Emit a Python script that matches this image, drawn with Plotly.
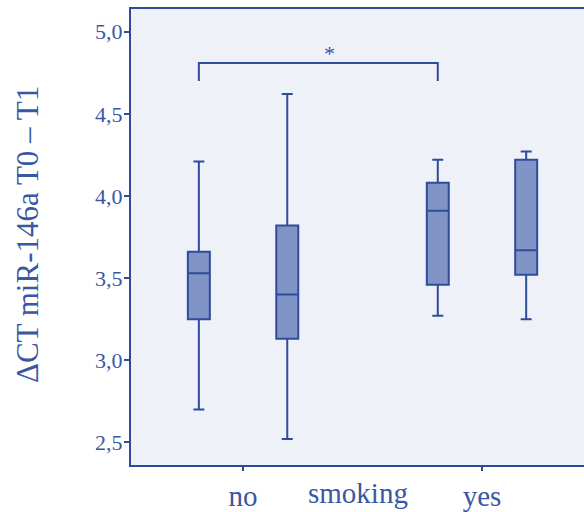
import plotly.graph_objects as go

# Groups on the x axis
categories = ["no", "yes"]

# Box statistics for the two series within each smoking group
series_names = ["series 1", "series 2"]
lower_whisker = [[2.70, 3.27], [2.52, 3.25]]
q1_values = [[3.25, 3.46], [3.13, 3.52]]
median_values = [[3.53, 3.91], [3.40, 3.67]]
q3_values = [[3.66, 4.08], [3.82, 4.22]]
upper_whisker = [[4.21, 4.22], [4.62, 4.27]]

# Significance bracket between "no"/series 1 and "yes"/series 1
bracket_label = "*"
bracket_top = 4.81
bracket_drop = 4.70

y_title = "ΔCT miR-146a T0 – T1"
x_title = "smoking"
y_ticks = [2.5, 3.0, 3.5, 4.0, 4.5, 5.0]

LINE = "#2f4c9c"
FILL = "#8094c6"
TEXT = "#3a57a4"
BG = "#eef1f8"
FONT = "Liberation Serif"

group_offsets = [-0.185, 0.185]
box_width = 0.092

fig = go.Figure()
for s, name in enumerate(series_names):
    xs = [i + group_offsets[s] for i in range(len(categories))]
    fig.add_trace(go.Box(
        name=name,
        x=xs,
        q1=q1_values[s],
        median=median_values[s],
        q3=q3_values[s],
        lowerfence=lower_whisker[s],
        upperfence=upper_whisker[s],
        width=box_width,
        whiskerwidth=0.5,
        fillcolor=FILL,
        line=dict(color=LINE, width=2),
        boxpoints=False,
        showlegend=False,
        hoverinfo="skip",
    ))

# bracket joining the first-series boxes of both groups
bx0 = 0 + group_offsets[0]
bx1 = 1 + group_offsets[0]
fig.add_shape(
    type="path",
    path=f"M {bx0},{bracket_drop} L {bx0},{bracket_top} L {bx1},{bracket_top} L {bx1},{bracket_drop}",
    xref="x", yref="y",
    line=dict(color=LINE, width=2),
)
fig.add_annotation(
    x=0.36, y=bracket_top, xref="x", yref="y",
    text=bracket_label, showarrow=False,
    yanchor="bottom", yshift=-5,
    font=dict(family=FONT, size=22, color=TEXT),
)

# x axis title sits on the same line as the category labels
fig.add_annotation(
    x=0.5, y=0, xref="paper", yref="paper",
    text=x_title, showarrow=False,
    xanchor="center", yanchor="top", yshift=-10,
    font=dict(family=FONT, size=29, color=TEXT),
)
# y axis title
fig.add_annotation(
    x=0, y=0.5, xref="paper", yref="paper",
    text=y_title, showarrow=False, textangle=-90,
    xanchor="center", yanchor="middle", xshift=-104, yshift=2,
    font=dict(family=FONT, size=31, color=TEXT),
)

fig.update_layout(
    width=584, height=512,
    margin=dict(l=131, r=0, t=9, b=47),
    paper_bgcolor="white",
    plot_bgcolor=BG,
    separators=",.",
    boxmode="overlay",
    font=dict(family=FONT, color=TEXT),
)
fig.update_xaxes(
    range=[-0.469, 1.427],
    tickvals=list(range(len(categories))),
    ticktext=categories,
    ticks="outside", ticklen=4, tickwidth=1.5, tickcolor=LINE,
    tickfont=dict(family=FONT, size=29, color=TEXT),
    showline=True, linecolor=LINE, linewidth=2, mirror=True,
    showgrid=False, zeroline=False,
)
fig.update_yaxes(
    range=[2.362, 5.138],
    tickvals=y_ticks,
    tickformat=".1f",
    ticks="outside", ticklen=5, tickwidth=1.5, tickcolor=LINE,
    tickfont=dict(family=FONT, size=22, color=TEXT),
    ticklabelstandoff=-3,
    showline=True, linecolor=LINE, linewidth=2, mirror=False,
    showgrid=False, zeroline=False,
)

fig.write_html("out.html")
